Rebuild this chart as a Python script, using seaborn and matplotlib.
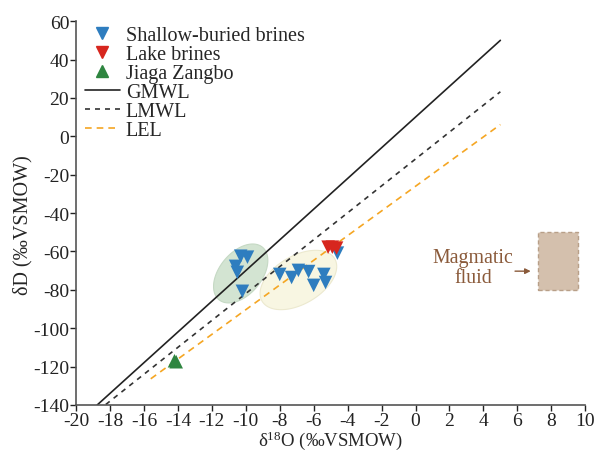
import numpy as np
import pandas as pd
import matplotlib
matplotlib.use("Agg")
import matplotlib.pyplot as plt
import seaborn as sns
from matplotlib.lines import Line2D
from matplotlib.patches import Polygon, Rectangle

# ---- data ----
shallow_x = [-10.3, -9.9, -10.6, -10.5, -10.2, -8.0, -7.3, -6.9, -6.3, -6.0, -5.4, -5.3, -4.6]
shallow_y = [-62.5, -63.0, -67.8, -70.9, -80.8, -72.0, -73.6, -69.9, -70.5, -77.7, -72.0, -76.2, -60.9]
lake_x = [-5.15, -4.9, -4.65]
lake_y = [-57.8, -57.8, -58.3]
jiaga_x = [-14.2, -14.1]
jiaga_y = [-117.0, -117.5]

gmwl_x = [-18.75, 5.0]
gmwl_y = [-140.0, 50.0]
lmwl_x = [-18.25, 5.0]
lmwl_y = [-139.8, 23.2]
lel_x = [-15.6, 5.0]
lel_y = [-126.4, 6.1]

magma_x = [7.2, 9.6]
magma_y = [-80.0, -50.0]

xticks = list(range(-20, 11, 2))
yticks = list(range(-140, 61, 20))

# ---- style ----
sns.set_style("ticks")
plt.rcParams['font.family'] = ['Liberation Serif', 'DejaVu Serif']
plt.rcParams['mathtext.fontset'] = 'custom'
plt.rcParams['mathtext.rm'] = 'Liberation Serif'
plt.rcParams['mathtext.it'] = 'Liberation Serif:italic'
plt.rcParams['axes.unicode_minus'] = False

fig = plt.figure(figsize=(5.99, 4.52), dpi=100)
ax = fig.add_axes([0.127, 0.102, 0.85, 0.849])

blue = "#2e7dbf"
red = "#d7261e"
green = "#2e8540"

def ellipse(cx, cy, a_px, b_px, ang_deg, px_per_x, px_per_y):
    t = np.linspace(0, 2 * np.pi, 200)
    th = np.deg2rad(ang_deg)
    dx = a_px * np.cos(t) * np.cos(th) - b_px * np.sin(t) * np.sin(th)
    dy = a_px * np.cos(t) * np.sin(th) + b_px * np.sin(t) * np.cos(th)
    return np.column_stack([cx + dx / px_per_x, cy + dy / px_per_y])

pxx = 509 / 30.0
pxy = 382 / 200.0
ax.add_patch(Polygon(ellipse(-10.3, -71.5, 34, 21, 50, pxx, pxy), closed=True,
                     facecolor="#d3e4d2", edgecolor="#c5d9c4", lw=0.8, zorder=1))
ax.add_patch(Polygon(ellipse(-6.9, -74.9, 42, 24, 30, pxx, pxy), closed=True,
                     facecolor="#f8f6e2", edgecolor="#ece9cf", lw=0.8, zorder=1))

sns.lineplot(x=gmwl_x, y=gmwl_y, ax=ax, color="#222222", lw=1.2, sort=False, zorder=2)
sns.lineplot(x=lmwl_x, y=lmwl_y, ax=ax, color="#333333", lw=1.2, sort=False,
             linestyle=(0, (3, 3)), zorder=2)
sns.lineplot(x=lel_x, y=lel_y, ax=ax, color="#f5a623", lw=1.2, sort=False,
             linestyle=(0, (4, 3)), zorder=2)

sns.scatterplot(x=shallow_x, y=shallow_y, ax=ax, marker="v", s=95, color=blue,
                edgecolor="none", zorder=3)
sns.scatterplot(x=lake_x, y=lake_y, ax=ax, marker="v", s=95, color=red,
                edgecolor="none", zorder=4)
sns.scatterplot(x=jiaga_x, y=jiaga_y, ax=ax, marker="^", s=95, color=green,
                edgecolor="none", zorder=3)

ax.add_patch(Rectangle((magma_x[0], magma_y[0]), magma_x[1] - magma_x[0],
                       magma_y[1] - magma_y[0], facecolor="#d4c0ad",
                       edgecolor="#b89f88", lw=1.0, linestyle=(0, (3, 2)), zorder=2))
ax.text(3.4, -68.5, "Magmatic\nfluid", color="#8a5a3a", fontsize=14.3,
        ha="center", va="center", linespacing=1.05)
ax.annotate("", xy=(6.95, -70.3), xytext=(5.7, -70.3),
            arrowprops=dict(arrowstyle="-|>", color="#8a5a3a", lw=1.0,
                            mutation_scale=8))

ax.set_xlim(-20, 10)
ax.set_ylim(-140, 60)
ax.set_xticks(xticks)
ax.set_yticks(yticks)
ax.tick_params(direction="out", length=4, width=1, colors="#222222",
               labelsize=14, pad=1)
for s in ["left", "bottom"]:
    ax.spines[s].set_color("#555555")
    ax.spines[s].set_linewidth(1.2)
sns.despine(ax=ax)

ax.set_xlabel(r"δ$^{18}$O (‰VSMOW)", fontsize=13.5, labelpad=0)
ax.set_ylabel("δD (‰VSMOW)", fontsize=14.5, labelpad=1)
ax.yaxis.set_label_coords(-0.085, 0.47)

handles = [
    Line2D([], [], marker="v", color=blue, linestyle="none", markersize=9),
    Line2D([], [], marker="v", color=red, linestyle="none", markersize=9),
    Line2D([], [], marker="^", color=green, linestyle="none", markersize=9),
    Line2D([], [], color="#222222", lw=1.2),
    Line2D([], [], color="#333333", lw=1.2, linestyle=(0, (3, 3))),
    Line2D([], [], color="#f5a623", lw=1.2, linestyle=(0, (4, 3))),
]
labels = ["Shallow-buried brines", "Lake brines", "Jiaga Zangbo", "GMWL", "LMWL", "LEL"]
ax.legend(handles, labels, loc="upper left", bbox_to_anchor=(-0.015, 1.03),
          frameon=False, fontsize=14.5, handlelength=1.75, handletextpad=0.3,
          labelspacing=0.0, borderaxespad=0.4)

fig.savefig("out.png", dpi=100)
